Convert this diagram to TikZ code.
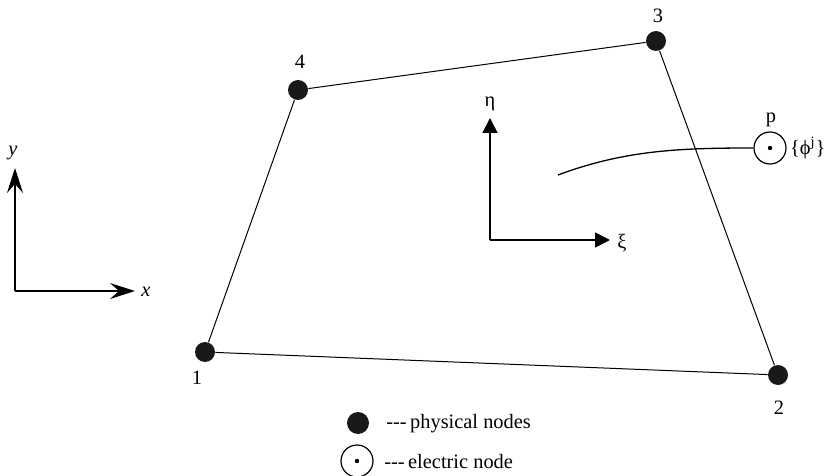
\documentclass[tikz,border=0pt]{standalone}
\usepackage{fontspec}
\setmainfont{Liberation Serif}
\usetikzlibrary{arrows.meta, positioning}

\begin{document}
\begin{tikzpicture}[
        x=0.5pt, y=-0.5pt,
        font=\fontsize{10.2}{12}\selectfont,
        pnode/.style={
            circle,
            fill=black!90,
            inner sep=0pt,
            minimum size=10pt
        },
        enode/.style={
            circle,
            draw,
            line width=0.6pt,
            inner sep=0pt,
            minimum size=16pt
        },
        numlabel/.style={
            inner sep=1pt
        },
        edge/.style={
            line width=0.5pt
        },
        globalaxis/.style={
            -{Stealth[length=12.5pt, width=8pt, inset=4.5pt]},
            line width=0.9pt
        },
        localaxis/.style={
            -{Triangle[length=7.5pt, width=7.5pt]},
            line width=0.85pt
        }
    ]

    \useasboundingbox (0,0) rectangle (825,476);

    % physical nodes of the element
    \node[pnode] (n1) at (205,352) {};
    \node[pnode] (n2) at (778,375) {};
    \node[pnode] (n3) at (656,41) {};
    \node[pnode] (n4) at (298,90) {};

    \node[numlabel] (l1) at (197,378) {1};
    \node[numlabel] (l2) at (779,408) {2};
    \node[numlabel] (l3) at (658,16) {3};
    \node[numlabel] (l4) at (300,62) {4};

    \draw[edge] (n1) -- (n2) -- (n3) -- (n4) -- (n1);

    % electric node
    \node[enode] (p) at (770,148) {};
    \fill (p.center) circle (1.1pt);
    \node[numlabel] (pl) at (771,120) {p};
    \node[numlabel, right=0.5pt of p] (phi) {\{ϕ\textsuperscript{j}\}};

    \coordinate (cstart) at (558,175);
    \draw[line width=0.65pt] (cstart) .. controls (625,150) and (680,148) .. (p.west);

    % global axes
    \coordinate (o) at (15,291);
    \coordinate (xe) at (135,291);
    \coordinate (ye) at (15,168);
    \draw[globalaxis] (o) -- (xe);
    \draw[globalaxis] (o) -- (ye);
    \node[numlabel, font=\fontsize{10.2}{12}\selectfont\itshape] (xl) at (146,292) {x};
    \node[numlabel, font=\fontsize{10.2}{12}\selectfont\itshape] (yl) at (13,153) {y};

    % local axes
    \coordinate (lo) at (490,240);
    \coordinate (xie) at (610,240);
    \coordinate (etae) at (490,118);
    \draw[localaxis] (lo) -- (xie);
    \draw[localaxis] (lo) -- (etae);
    \node[numlabel] (xil) at (622,243) {ξ};
    \node[numlabel] (etal) at (490,104) {η};

    % legend
    \node[pnode, minimum size=11pt] (lg1) at (358,423) {};
    \node[enode] (lg2) at (357,461) {};
    \fill (lg2.center) circle (1.1pt);
    \node[anchor=west, inner sep=0pt] (lt1) at (386,424) {{-}{-}{-}\,physical nodes};
    \node[anchor=west, inner sep=0pt] (lt2) at (384,462) {{-}{-}{-}\,electric node};

\end{tikzpicture}
\end{document}
